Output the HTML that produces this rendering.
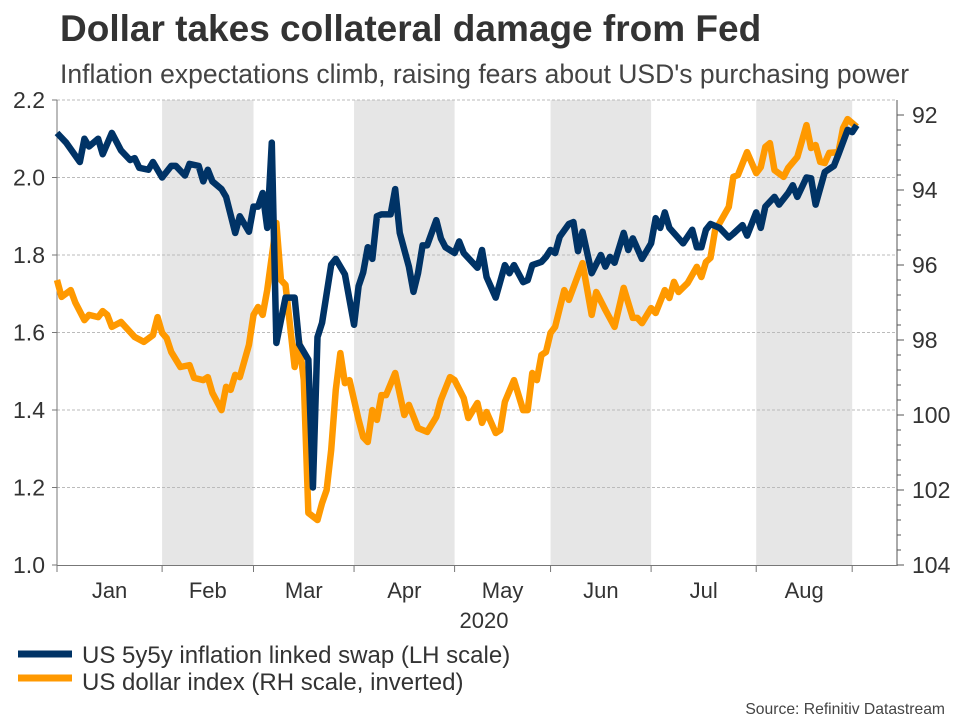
<!DOCTYPE html>
<html><head><meta charset="utf-8"><style>
body{margin:0;background:#fff;width:960px;height:720px;overflow:hidden;font-family:"Liberation Sans",Arial,sans-serif}
svg text{font-family:"Liberation Sans",Arial,sans-serif}
</style></head><body>
<svg id="chart" width="960" height="720" xmlns="http://www.w3.org/2000/svg">
<text x="60" y="41" font-size="37" font-weight="bold" fill="#333">Dollar takes collateral damage from Fed</text>
<text x="60" y="83" font-size="26.5" fill="#444">Inflation expectations climb, raising fears about USD's purchasing power</text>
<g id="bands"></g>
<g id="grid"></g>
<g id="axes"></g>
<g id="series"></g>
<text x="484" y="628" font-size="22" fill="#333" text-anchor="middle">2020</text>
<g>
<line x1="18" y1="654" x2="72" y2="654" stroke="#003366" stroke-width="7"/>
<text x="82" y="663" font-size="24" fill="#333">US 5y5y inflation linked swap (LH scale)</text>
<line x1="18" y1="678" x2="72" y2="678" stroke="#ff9900" stroke-width="7"/>
<text x="82" y="690" font-size="24" fill="#333">US dollar index (RH scale, inverted)</text>
</g>
<text x="945" y="714" font-size="15.7" fill="#444" text-anchor="end">Source: Refinitiv Datastream</text>
</svg>
<script>
const monthLabels=["Jan","Feb","Mar","Apr","May","Jun","Jul","Aug"];
const monthStarts=[0,23,43,65,87,108,130,153,174];
const leftTicks=[1.0,1.2,1.4,1.6,1.8,2.0,2.2];
const rightTicks=[92,94,96,98,100,102,104];
const swapDays=[0,2,5,6,7,9,10,12,14,16,17,18,20,21,23,25,26,28,29,31,32,33,34,36,37,39,40,42,43,44,45,46,47,48,50,52,53,55,56,57,58,60,61,63,65,66,67,68,69,70,71,73,74,75,77,78,79,80,81,83,84,85,87,88,89,92,93,94,96,98,99,100,102,103,104,106,107,108,109,110,112,113,114,115,117,119,120,121,122,124,125,126,128,130,131,132,133,134,137,139,140,141,142,143,145,147,148,150,151,153,154,155,157,158,160,161,162,164,165,166,168,170,171,173,174,175];
const swapVals=[2.115,2.09,2.04,2.10,2.08,2.10,2.06,2.115,2.07,2.045,2.05,2.025,2.02,2.04,2.0,2.03,2.03,2.005,2.035,2.03,1.99,2.02,1.99,1.97,1.95,1.857,1.90,1.86,1.925,1.925,1.96,1.87,2.09,1.573,1.69,1.69,1.57,1.53,1.20,1.588,1.625,1.775,1.79,1.75,1.62,1.72,1.755,1.82,1.79,1.90,1.905,1.905,1.97,1.857,1.77,1.705,1.753,1.825,1.825,1.89,1.843,1.82,1.805,1.835,1.805,1.767,1.813,1.743,1.69,1.774,1.753,1.774,1.73,1.735,1.774,1.782,1.795,1.813,1.805,1.847,1.88,1.885,1.81,1.86,1.753,1.80,1.77,1.795,1.78,1.857,1.813,1.843,1.79,1.83,1.895,1.87,1.91,1.87,1.83,1.865,1.82,1.82,1.865,1.88,1.87,1.845,1.855,1.877,1.85,1.91,1.87,1.925,1.95,1.93,1.96,1.98,1.95,2.0,1.998,1.93,2.014,2.03,2.06,2.123,2.117,2.135];
const usdDays=[0,1,3,4,6,7,9,10,11,12,14,17,19,21,22,23,24,25,27,29,30,32,33,34,36,37,38,39,40,42,43,44,45,46,48,49,50,52,53,54,55,57,58,59,60,61,62,63,64,66,67,68,69,70,71,72,74,76,77,79,81,83,84,86,87,89,90,92,93,94,96,97,98,100,102,103,104,105,106,107,108,109,111,112,115,117,118,120,122,124,126,127,128,130,131,133,134,135,136,138,140,141,142,143,144,145,147,148,149,151,153,154,155,156,157,159,160,162,164,165,166,167,168,169,171,172,173,175];
const usdVals=[96.4,96.85,96.67,97.0,97.47,97.33,97.39,97.23,97.33,97.65,97.52,97.92,98.05,97.87,97.39,97.81,97.95,98.32,98.72,98.67,99.01,99.07,98.99,99.41,99.87,99.25,99.33,98.93,98.99,98.13,97.33,97.12,97.33,96.67,94.88,96.4,96.53,98.72,98.05,99.07,102.61,102.8,102.35,102.0,100.93,99.33,98.35,99.15,99.07,100.13,100.59,100.72,99.87,100.13,99.47,99.47,98.88,100.0,99.73,100.35,100.45,100.05,99.6,98.99,99.07,99.55,100.08,99.68,100.21,99.92,100.48,100.4,99.65,99.07,99.87,99.87,98.88,99.07,98.4,98.32,97.81,97.65,96.67,96.93,95.95,97.33,96.72,97.2,97.65,96.61,97.41,97.41,97.55,97.15,97.28,96.67,96.88,96.45,96.72,96.48,96.05,96.32,95.92,95.81,95.07,94.88,94.45,93.65,93.6,92.99,93.55,93.39,92.85,92.75,93.47,93.65,93.41,93.12,92.27,92.88,92.8,93.25,93.28,93.01,92.99,92.35,92.11,92.32];

const NS="http://www.w3.org/2000/svg";
const X0=57,DX=4.57,PR=897;
function x(d){return X0+d*DX;}
function yL(v){return 100+(2.2-v)*387.5;}
function yR(v){return 115+(v-92)*37.5;}
function mk(tag,attrs,parent){const e=document.createElementNS(NS,tag);for(const k in attrs)e.setAttribute(k,attrs[k]);parent.appendChild(e);return e;}
const bands=document.getElementById('bands'),grid=document.getElementById('grid'),axes=document.getElementById('axes'),series=document.getElementById('series');
for(let m=1;m<monthLabels.length;m+=2){
  const r=mk('rect',{x:x(monthStarts[m]),y:100,width:x(monthStarts[m+1])-x(monthStarts[m]),height:465,fill:'#e6e6e6'},bands);
  
  
}
leftTicks.forEach(v=>{
  if(v>1.0){const g=mk('line',{x1:X0,x2:PR,y1:yL(v),y2:yL(v),stroke:'#bbb','stroke-width':1,'stroke-dasharray':'3,2'},grid);
  
  }
  const t=mk('text',{x:45,y:yL(v)+8,'font-size':23,fill:'#333','text-anchor':'end'},axes);t.textContent=v.toFixed(1);
  
  
  mk('line',{x1:52,x2:X0,y1:yL(v),y2:yL(v),stroke:'#777'},axes);
});
rightTicks.forEach(v=>{
  const t=mk('text',{x:912,y:yR(v)+8,'font-size':23,fill:'#333'},axes);t.textContent=v;
  
  
  mk('line',{x1:PR,x2:PR+7,y1:yR(v),y2:yR(v),stroke:'#555'},axes);
});
for(let v=92;v<104;v+=0.4){mk('line',{x1:PR,x2:PR+4,y1:yR(v),y2:yR(v),stroke:'#555'},axes);}
mk('line',{x1:X0,x2:X0,y1:100,y2:566,stroke:'#777'},axes);
mk('line',{x1:PR,x2:PR,y1:100,y2:566,stroke:'#555'},axes);
mk('line',{x1:X0,x2:PR,y1:565.5,y2:565.5,stroke:'#777'},axes);
monthStarts.forEach(d=>mk('line',{x1:x(d),x2:x(d),y1:565,y2:572,stroke:'#777'},axes));
monthLabels.forEach((m,i)=>{
  const t=mk('text',{x:(x(monthStarts[i])+x(monthStarts[i+1]))/2,y:598,'font-size':22,fill:'#333','text-anchor':'middle'},axes);t.textContent=m;
  
  
});
const pu=mk('polyline',{points:usdDays.map((d,i)=>x(d)+','+yR(usdVals[i])).join(' '),fill:'none',stroke:'#ff9900','stroke-width':6.5,'stroke-linejoin':'round'},series);


const ps=mk('polyline',{points:swapDays.map((d,i)=>x(d)+','+yL(swapVals[i])).join(' '),fill:'none',stroke:'#003366','stroke-width':6.5,'stroke-linejoin':'round'},series);


</script>
</body></html>
